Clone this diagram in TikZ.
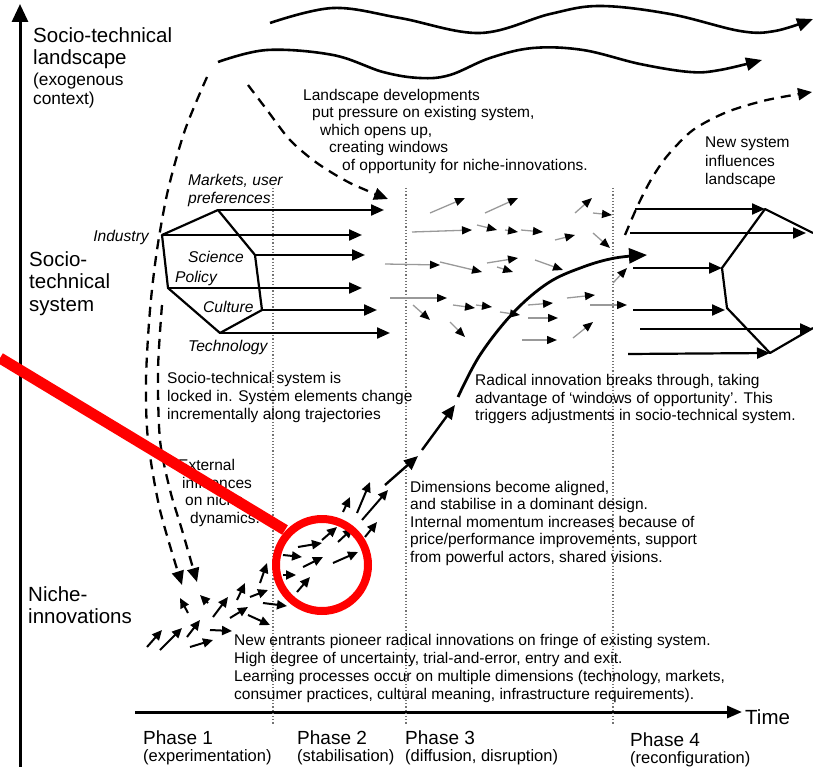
\documentclass[tikz,border=0pt]{standalone}
\usepackage{fontspec}
\setmainfont{Liberation Sans}
\usetikzlibrary{arrows.meta}
\definecolor{markred}{RGB}{255,0,0}
\tikzset{
  axis/.style={line width=3pt,-{Triangle[length=18pt,width=16pt]}},
  wave/.style={line width=2.6pt,-{Triangle[length=16pt,width=13pt]}},
  push/.style={line width=2.3pt,dash pattern=on 10pt off 7pt,-{Triangle[length=14pt,width=12pt]}},
  sysarrow/.style={line width=2.2pt,-{Triangle[length=13pt,width=11pt]}},
  drift/.style={line width=1.3pt,draw=black!40,-{Triangle[length=10pt,width=8pt,color=black]}},
  niche/.style={line width=2pt,-{Triangle[length=10pt,width=9pt]}},
  phaseline/.style={line width=1.2pt,dotted,black!55},
  lbl/.style={font=\fontsize{15.5}{17.5}\selectfont,align=left,anchor=north west,inner sep=0pt},
  elem/.style={font=\fontsize{15.6}{18}\selectfont\itshape,align=left,inner sep=0pt},
  level/.style={font=\fontsize{20.5}{22.5}\selectfont,align=left,anchor=north west,inner sep=0pt},
  phasename/.style={font=\fontsize{19}{21}\selectfont,anchor=west,inner sep=0pt},
  phasesub/.style={font=\fontsize{16.5}{18}\selectfont,anchor=west,inner sep=0pt}
}
\begin{document}
\begin{tikzpicture}[x=1pt,y=-1pt,line cap=butt,line join=round]
\useasboundingbox (0,0) rectangle (813,767);
% axes
\draw[axis] (20,767) -- (20,4);
\draw[axis,-{Triangle[length=15pt,width=12pt]}] (135,712) -- (742,712);
\node[phasename,font=\fontsize{20.5}{22}\selectfont] (time) at (745,717) {Time};
% phase boundaries
\foreach \x in {273,406,613}
  \draw[phaseline] (\x,188) -- (\x,725);
% level labels
\node[level] (lscape) at (33,27) {Socio-technical\\landscape};
\node[level,font=\fontsize{17.3}{19}\selectfont] (exog) at (33,73) {(exogenous\\context)};
\node[level] (regime) at (29,251) {Socio-\\technical\\system};
\node[level] (niches) at (28,586) {Niche-\\innovations};
% landscape developments
\draw[wave] plot[smooth,tension=0.6] coordinates {(270,23) (333,8) (400,18) (480,33) (550,14) (600,6) (670,14) (740,31) (775,31) (813,19)};
\draw[wave] plot[smooth,tension=0.6] coordinates {(218,62) (267,50) (333,55) (383,72) (420,78) (450,75) (490,58) (533,48) (583,50) (640,64) (690,72) (720,70) (762,60)};
\draw[push] plot[smooth] coordinates {(248,85) (267,110) (290,140) (317,163) (350,183) (388,199)};
\draw[push] plot[smooth] coordinates {(207,77) (185,130) (168,190) (157,250) (150,310) (146,380) (148,440) (160,510) (182,585)};
\draw[push] plot[smooth] coordinates {(162,305) (158,370) (160,440) (170,490) (182,530) (197,582)};
\draw[push] plot[smooth] coordinates {(625,235) (638,205) (652,178) (668,155) (693,130) (727,112) (767,100) (812,92)};
\node[lbl] (lsdev) at (303,89) {Landscape developments\\\hspace*{9pt}put pressure on existing system,\\\hspace*{17pt}which opens up,\\\hspace*{26pt}creating windows\\\hspace*{39pt}of opportunity for niche-innovations.};
\node[lbl,font=\fontsize{15.5}{18.5}\selectfont] (newsys) at (705,137) {New system\\influences\\landscape};
% socio-technical system, old
\coordinate (ind) at (162,235);
\coordinate (mkt) at (218,210);
\coordinate (sci) at (255,255);
\coordinate (cul) at (262,310);
\coordinate (tec) at (220,333);
\coordinate (pol) at (168,288);
\draw[line width=2.2pt] (ind) -- (mkt) -- (sci) -- (cul) -- (tec) -- (pol) -- cycle;
\draw[sysarrow] (mkt) -- (384,210);
\draw[sysarrow] (ind) -- (362,235);
\draw[sysarrow] (sci) -- (365,255);
\draw[sysarrow] (pol) -- (362,288);
\draw[sysarrow] (cul) -- (377,310);
\draw[sysarrow] (tec) -- (390,333);
\node[elem,anchor=north west] (markets) at (188,174) {Markets, user\\preferences};
\node[elem,anchor=east] (industry) at (149,237) {Industry};
\node[elem,anchor=west] (science) at (188,257) {Science};
\node[elem,anchor=west] (policy) at (175,278) {Policy};
\node[elem,anchor=west] (culture) at (203,307) {Culture};
\node[elem,anchor=west] (technology) at (188,347) {Technology};
\node[lbl,font=\fontsize{15.5}{18}\selectfont] (lockin) at (167,372) {Socio-technical system is\\locked in. System elements change\\incrementally along trajectories};
% phase 3 turbulence
\foreach \ax/\ay/\bx/\by in {430/213/465/198, 485/213/518/198, 575/213/592/198, 593/213/612/215,
  412/232/472/230, 477/225/497/230, 505/230/518/232, 521/230/543/232, 555/240/575/235, 593/233/610/248,
  385/264/440/265, 440/262/482/272, 487/263/518/258, 497/267/513/272, 535/260/563/270,
  390/298/447/298, 413/305/430/320, 453/305/475/308, 476/305/492/307, 500/312/520/315, 450/322/465/337,
  528/305/553/303, 528/318/558/318, 567/298/595/295, 522/340/557/340, 573/338/593/322,
  590/305/627/305, 613/283/627/268}
  \draw[drift] (\ax,\ay) -- (\bx,\by);
% socio-technical system, new
\coordinate (ntop) at (765,209);
\coordinate (nul) at (722,268);
\coordinate (nll) at (727,308);
\coordinate (nbot) at (770,353);
\draw[line width=2.2pt] (813,233) -- (ntop) -- (nul) -- (nll) -- (nbot) -- (813,328);
\draw[sysarrow] (635,209) -- (ntop);
\draw[sysarrow] (630,233) -- (806,233);
\draw[sysarrow] (633,268) -- (nul);
\draw[sysarrow] (633,310) -- (725,310);
\draw[sysarrow] (640,329) -- (813,329);
\draw[sysarrow] (628,354) -- (nbot);
% breakthrough
\draw[line width=2.4pt,-{Triangle[length=14pt,width=12pt]}] (385,485) -- (418,456);
\draw[line width=2.4pt,-{Triangle[length=14pt,width=12pt]}] (422,450) -- (455,405);
\draw[line width=2.8pt,-{Triangle[length=18pt,width=15pt]}] plot[smooth,tension=0.6] coordinates {(458,397) (480,355) (513,313) (548,283) (583,267) (615,258) (647,255)};
\node[lbl,font=\fontsize{15.5}{17.7}\selectfont] (breaks) at (475,374) {Radical innovation breaks through, taking\\advantage of `windows of opportunity'. This\\triggers adjustments in socio-technical system.};
% niche level
\foreach \ax/\ay/\bx/\by in {147/647/162/630, 160/650/182/628, 187/637/200/620, 190/647/213/640, 210/630/232/631,
  188/613/180/598, 208/603/200/595, 213/617/228/597, 230/618/248/607, 248/615/270/625,
  237/600/245/583, 250/597/268/590, 260/583/267/563, 263/603/287/606, 283/575/296/575,
  283/555/302/557, 297/592/310/577, 298/547/322/543, 303/567/323/557, 322/540/337/527,
  333/563/358/552, 338/542/353/528, 343/512/350/497, 357/513/370/482, 362/520/388/490, 365/537/377/522}
  \draw[niche] (\ax,\ay) -- (\bx,\by);
\node[lbl,font=\fontsize{15.5}{17.7}\selectfont] (extinf) at (178,459) {External\\\hspace*{4pt}influences\\\hspace*{7pt}on niche\\\hspace*{12pt}dynamics.};
\node[lbl] (aligned) at (410,481) {Dimensions become aligned,\\and stabilise in a dominant design.\\Internal momentum increases because of\\price/performance improvements, support\\from powerful actors, shared visions.};
\node[lbl,font=\fontsize{15.5}{18}\selectfont] (entrants) at (234,634) {New entrants pioneer radical innovations on fringe of existing system.\\High degree of uncertainty, trial-and-error, entry and exit.\\Learning processes occur on multiple dimensions (technology, markets,\\consumer practices, cultural meaning, infrastructure requirements).};
% phases
\node[phasename] (ph1) at (143,738) {Phase 1};
\node[phasesub] (ph1s) at (143,757) {(experimentation)};
\node[phasename] (ph2) at (297,738) {Phase 2};
\node[phasesub] (ph2s) at (297,757) {(stabilisation)};
\node[phasename] (ph3) at (405,738) {Phase 3};
\node[phasesub] (ph3s) at (405,757) {(diffusion, disruption)};
\node[phasename] (ph4) at (630,740) {Phase 4};
\node[phasesub] (ph4s) at (630,759) {(reconfiguration)};
% highlight
\draw[markred,line width=11pt] (0,358) -- (285,530);
\draw[markred,line width=8pt] (322,565) circle (46pt);
\end{tikzpicture}
\end{document}
